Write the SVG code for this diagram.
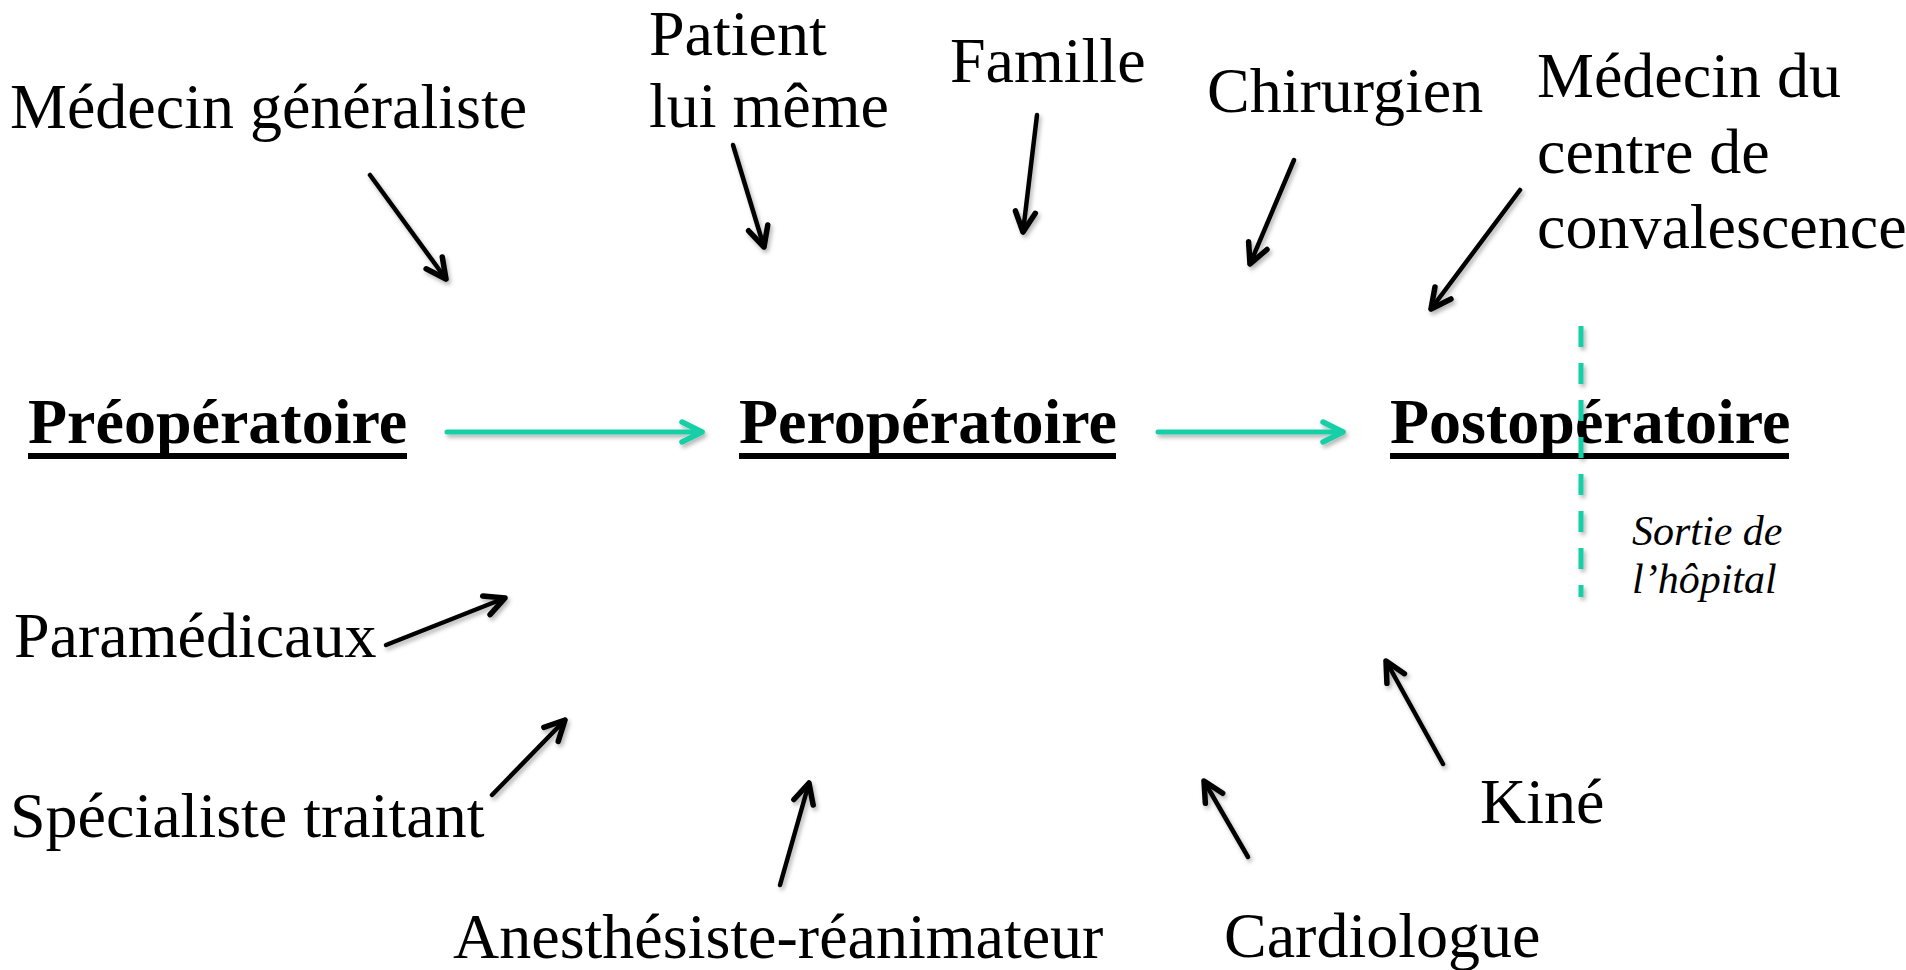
<svg xmlns="http://www.w3.org/2000/svg" width="1906" height="970" viewBox="0 0 1906 970">
  <defs>
    <style>
      .lbl { font-family: "Liberation Serif", "Times New Roman", serif; font-size: 64px; fill: #000; }
      .phase { font-family: "Liberation Serif", "Times New Roman", serif; font-size: 64px; font-weight: bold; fill: #000; }
      .note { font-family: "Liberation Serif", "Times New Roman", serif; font-size: 42px; font-style: italic; fill: #000; }
      .ul { fill: #000; }
      .blk { stroke: #000; stroke-width: 4.5; fill: none; stroke-linecap: round; }
      .grn { stroke: #17CFA6; stroke-width: 5; fill: none; stroke-linecap: round; }
      .dash { stroke: #17CFA6; stroke-width: 5; fill: none; stroke-dasharray: 21 16; }
    </style>
    <filter id="shadow" filterUnits="userSpaceOnUse" x="0" y="0" width="1906" height="970">
      <feDropShadow dx="2" dy="3" stdDeviation="2" flood-color="#000" flood-opacity="0.3"/>
    </filter>
    <marker id="ahB" markerUnits="userSpaceOnUse" markerWidth="40" markerHeight="40" viewBox="-30 -20 40 40" refX="0" refY="0" orient="auto">
      <path d="M -20 -10 L 0 0 L -20 10" fill="none" stroke="#000" stroke-width="5.5" stroke-linecap="round" stroke-linejoin="round"/>
    </marker>
    <marker id="ahG" markerUnits="userSpaceOnUse" markerWidth="40" markerHeight="40" viewBox="-30 -20 40 40" refX="0" refY="0" orient="auto">
      <path d="M -20 -10 L 0 0 L -20 10" fill="none" stroke="#17CFA6" stroke-width="5.5" stroke-linecap="round" stroke-linejoin="round"/>
    </marker>
  </defs>
  <rect width="1906" height="970" fill="#fff"/>

  <g id="connectors" filter="url(#shadow)">
    <line class="blk" x1="370" y1="175" x2="446" y2="279" marker-end="url(#ahB)"/>
    <line class="blk" x1="733" y1="145" x2="764" y2="247" marker-end="url(#ahB)"/>
    <line class="blk" x1="1037" y1="115" x2="1023" y2="232" marker-end="url(#ahB)"/>
    <line class="blk" x1="1294" y1="160" x2="1250" y2="264" marker-end="url(#ahB)"/>
    <line class="blk" x1="1520" y1="190" x2="1431" y2="309" marker-end="url(#ahB)"/>
    <line class="blk" x1="386" y1="645" x2="505" y2="598" marker-end="url(#ahB)"/>
    <line class="blk" x1="492" y1="795" x2="565" y2="720" marker-end="url(#ahB)"/>
    <line class="blk" x1="780" y1="885" x2="809" y2="783" marker-end="url(#ahB)"/>
    <line class="blk" x1="1248" y1="857" x2="1204" y2="781" marker-end="url(#ahB)"/>
    <line class="blk" x1="1443" y1="764" x2="1386" y2="661" marker-end="url(#ahB)"/>
    <line class="grn" x1="447" y1="432" x2="702" y2="432" marker-end="url(#ahG)"/>
    <line class="grn" x1="1158" y1="432" x2="1343" y2="432" marker-end="url(#ahG)"/>
  </g>

  <g id="node-preop">
    <text class="phase" x="28" y="443">Préopératoire</text>
    <rect class="ul" x="28" y="453" width="379" height="6"/>
  </g>
  <g id="node-perop">
    <text class="phase" x="739" y="443">Peropératoire</text>
    <rect class="ul" x="739" y="453" width="377" height="6"/>
  </g>
  <g id="node-postop">
    <text class="phase" x="1390" y="443">Postopératoire</text>
    <rect class="ul" x="1390" y="453" width="399" height="6"/>
  </g>
  <g id="node-sortie">
    <line class="dash" x1="1581" y1="326" x2="1581" y2="597" filter="url(#shadow)"/>
    <text class="note" x="1632" y="545">Sortie de</text>
    <text class="note" x="1632" y="593">l’hôpital</text>
  </g>

  <g id="node-medecin-generaliste">
    <text class="lbl" x="10" y="128">Médecin généraliste</text>
  </g>
  <g id="node-patient">
    <text class="lbl" x="649" y="55">Patient</text>
    <text class="lbl" x="649" y="127">lui même</text>
  </g>
  <g id="node-famille">
    <text class="lbl" x="950" y="82">Famille</text>
  </g>
  <g id="node-chirurgien">
    <text class="lbl" x="1207" y="112">Chirurgien</text>
  </g>
  <g id="node-medecin-centre">
    <text class="lbl" x="1537" y="97">Médecin du</text>
    <text class="lbl" x="1537" y="173">centre de</text>
    <text class="lbl" x="1537" y="248">convalescence</text>
  </g>
  <g id="node-paramedicaux">
    <text class="lbl" x="14" y="657">Paramédicaux</text>
  </g>
  <g id="node-specialiste">
    <text class="lbl" x="10" y="837">Spécialiste traitant</text>
  </g>
  <g id="node-anesthesiste">
    <text class="lbl" x="453" y="958">Anesthésiste-réanimateur</text>
  </g>
  <g id="node-cardiologue">
    <text class="lbl" x="1224" y="957">Cardiologue</text>
  </g>
  <g id="node-kine">
    <text class="lbl" x="1480" y="823">Kiné</text>
  </g>
</svg>
